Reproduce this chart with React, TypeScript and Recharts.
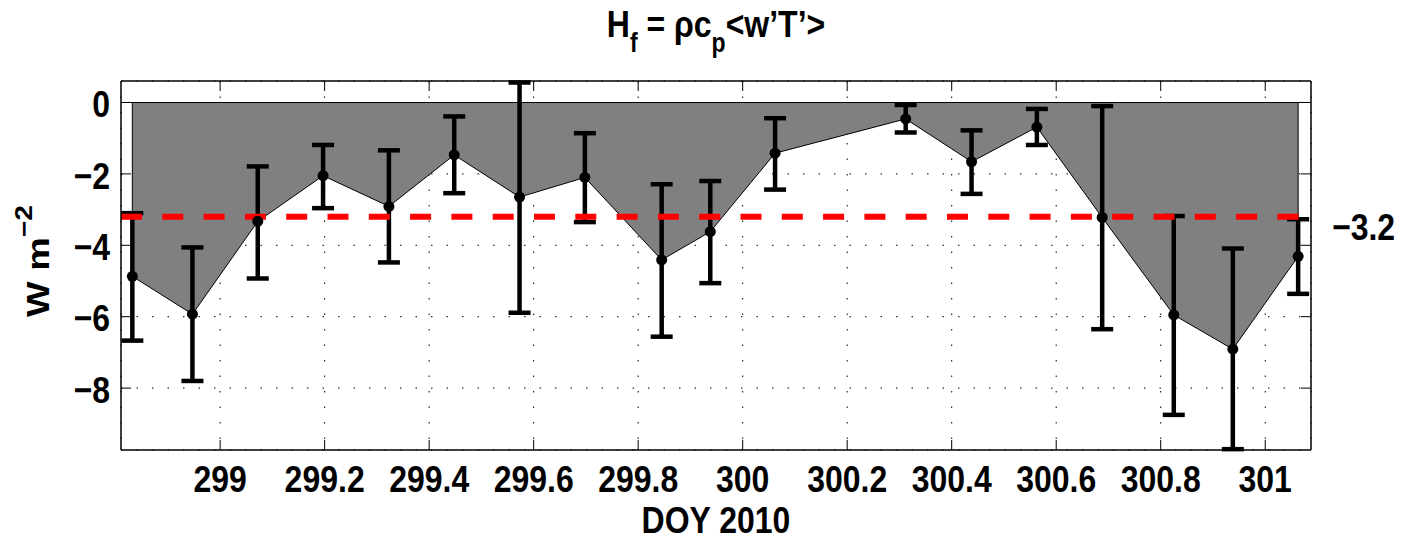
import React from "react";
import {
  Area,
  CartesianGrid,
  ComposedChart,
  ErrorBar,
  Line,
  ReferenceLine,
  XAxis,
  YAxis,
} from "recharts";

// values
const doy = [
  298.832, 298.947, 299.072, 299.197, 299.323, 299.448, 299.573, 299.698, 299.845,
  299.938, 300.062, 300.312, 300.438, 300.563, 300.688, 300.825, 300.938, 301.063,
];
const flux = [
  -4.87, -5.93, -3.33, -2.05, -2.91, -1.47, -2.65, -2.1, -4.41, -3.62, -1.42, -0.46,
  -1.66, -0.69, -3.22, -5.95, -6.91, -4.31,
];
const fluxUpper = [
  -3.1, -4.06, -1.79, -1.19, -1.34, -0.39, 0.56, -0.86, -2.29, -2.2, -0.44, -0.07,
  -0.78, -0.18, -0.1, -3.18, -4.09, -3.27,
];
const fluxLower = [
  -6.67, -7.8, -4.93, -2.96, -4.48, -2.54, -5.89, -3.35, -6.56, -5.06, -2.44, -0.84,
  -2.56, -1.19, -6.35, -8.75, -9.71, -5.36,
];
const meanFlux = -3.2;

const xTicks = [299, 299.2, 299.4, 299.6, 299.8, 300, 300.2, 300.4, 300.6, 300.8, 301];
const yTicks = [-8, -6, -4, -2, 0];
const xDomain = [298.8103, 301.0876];
const yDomain = [-9.734, 0.602];

const data = doy.map((d, i) => ({
  doy: d,
  flux: flux[i],
  err: [flux[i] - fluxLower[i], fluxUpper[i] - flux[i]],
}));

const FONT = "'Liberation Sans', Arial, Helvetica, sans-serif";
const STRETCH = 1.18;
const TICK = 10;

const minus = (v: number) => String(v).replace("-", "\u2212");

const BottomTick = (props: any) => {
  const { x, y, payload } = props;
  return (
    <g>
      <line x1={x} x2={x} y1={y} y2={y - TICK} stroke="#000" strokeWidth={1} />
      <text
        transform={`translate(${x},${y + 42}) scale(1,${STRETCH})`}
        textAnchor="middle"
        fontFamily={FONT}
        fontWeight="bold"
        fontSize={32}
        fill="#000"
      >
        {String(payload.value)}
      </text>
    </g>
  );
};

const TopTick = (props: any) => {
  const { x, y } = props;
  return <line x1={x} x2={x} y1={y} y2={y + TICK} stroke="#000" strokeWidth={1} />;
};

const LeftTick = (props: any) => {
  const { x, y, payload } = props;
  return (
    <g>
      <line x1={x} x2={x + TICK} y1={y} y2={y} stroke="#000" strokeWidth={1} />
      <text
        transform={`translate(${x - 11},${y}) scale(1,${STRETCH})`}
        y={12.5}
        textAnchor="end"
        fontFamily={FONT}
        fontWeight="bold"
        fontSize={32}
        fill="#000"
      >
        {minus(payload.value)}
      </text>
    </g>
  );
};

const RightTick = (props: any) => {
  const { x, y } = props;
  return <line x1={x} x2={x - TICK} y1={y} y2={y} stroke="#000" strokeWidth={1} />;
};

const MeanLabel = (props: any) => {
  const { viewBox } = props;
  const x = viewBox.x + viewBox.width + 21;
  const y = viewBox.y;
  return (
    <text
      transform={`translate(${x},${y + 23}) scale(1,${STRETCH})`}
      fontFamily={FONT}
      fontWeight="bold"
      fontSize={32}
      fill="#000"
    >
      {minus(meanFlux)}
    </text>
  );
};

const axisLine = { stroke: "#000", strokeWidth: 1.5 };

export default function App() {
  const W = 1406;
  const H = 541;
  return (
    <div style={{ position: "absolute", left: 0, top: 0, width: W, height: H, background: "#fff" }}>
      <ComposedChart
        width={W}
        height={H}
        data={data}
        margin={{ top: 80, right: 94, bottom: 90, left: 120 }}
      >
        <CartesianGrid stroke="#000" strokeWidth={1} strokeDasharray="1.5 14" />
        <XAxis
          dataKey="doy"
          type="number"
          domain={xDomain}
          ticks={xTicks}
          interval={0}
          height={1}
          tickSize={0}
          tickMargin={0}
          tickLine={false}
          axisLine={axisLine}
          tick={<BottomTick />}
          allowDataOverflow
        />
        <XAxis
          xAxisId="top"
          dataKey="doy"
          orientation="top"
          type="number"
          domain={xDomain}
          ticks={xTicks}
          interval={0}
          height={1}
          tickSize={0}
          tickMargin={0}
          tickLine={false}
          axisLine={axisLine}
          tick={<TopTick />}
          allowDataOverflow
        />
        <YAxis
          type="number"
          domain={yDomain}
          ticks={yTicks}
          interval={0}
          width={1}
          tickSize={0}
          tickMargin={0}
          tickLine={false}
          axisLine={axisLine}
          tick={<LeftTick />}
          allowDataOverflow
        />
        <YAxis
          yAxisId="right"
          orientation="right"
          type="number"
          domain={yDomain}
          ticks={yTicks}
          interval={0}
          width={1}
          tickSize={0}
          tickMargin={0}
          tickLine={false}
          axisLine={axisLine}
          tick={<RightTick />}
          allowDataOverflow
        />
        <Area
          type="linear"
          dataKey="flux"
          baseValue={0}
          fill="#808080"
          fillOpacity={1}
          stroke="none"
          isAnimationActive={false}
        />
        <Line
          xAxisId="top"
          yAxisId="right"
          dataKey="flux"
          stroke="none"
          dot={false}
          legendType="none"
          isAnimationActive={false}
        />
        <ReferenceLine y={0} stroke="#000" strokeWidth={1} />
        <ReferenceLine
          segment={[
            { x: doy[0], y: 0 },
            { x: doy[0], y: flux[0] },
          ]}
          stroke="#000"
          strokeWidth={1}
        />
        <ReferenceLine
          segment={[
            { x: doy[doy.length - 1], y: 0 },
            { x: doy[doy.length - 1], y: flux[flux.length - 1] },
          ]}
          stroke="#000"
          strokeWidth={1}
        />
        <Line
          type="linear"
          dataKey="flux"
          stroke="#000"
          strokeWidth={1}
          dot={{ r: 5.5, fill: "#000", stroke: "#000", strokeWidth: 0 }}
          isAnimationActive={false}
        >
          <ErrorBar dataKey="err" width={11} stroke="#000" strokeWidth={4.5} direction="y" />
        </Line>
        <ReferenceLine
          y={meanFlux}
          stroke="#ff0000"
          strokeWidth={6}
          strokeDasharray="21 20.3"
          label={<MeanLabel />}
        />
      </ComposedChart>
      <svg
        width={W}
        height={H}
        style={{ position: "absolute", left: 0, top: 0, pointerEvents: "none" }}
      >
        <text
          transform={`translate(716,37) scale(1,${STRETCH})`}
          textAnchor="middle"
          fontFamily={FONT}
          fontWeight="bold"
          fontSize={32}
          fill="#000"
        >
          H<tspan fontSize={23} dy={13}>f</tspan>
          <tspan dy={-13}> = ρc</tspan>
          <tspan fontSize={23} dy={13}>p</tspan>
          <tspan dy={-13}>{"<w’T’>"}</tspan>
        </text>
        <text
          transform={`translate(716,533) scale(1,${STRETCH})`}
          textAnchor="middle"
          fontFamily={FONT}
          fontWeight="bold"
          fontSize={32}
          fill="#000"
        >
          DOY 2010
        </text>
        <text
          transform={`translate(49,261) rotate(-90) scale(${STRETCH},1)`}
          textAnchor="middle"
          fontFamily={FONT}
          fontWeight="bold"
          fontSize={32}
          fill="#000"
        >
          W m<tspan fontSize={24} dy={-17}>{"\u22122"}</tspan>
        </text>
      </svg>
    </div>
  );
}
